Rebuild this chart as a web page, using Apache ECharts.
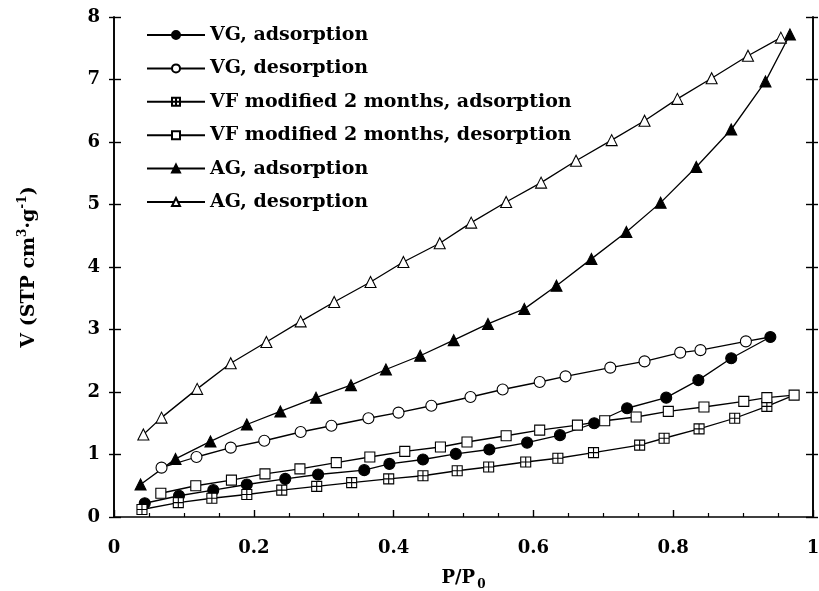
<!DOCTYPE html>
<html>
<head>
<meta charset="utf-8">
<script src="https://cdn.jsdelivr.net/npm/echarts@6/dist/echarts.min.js"></script>
<style>html,body{margin:0;padding:0;background:#fff}#c{width:819px;height:591px}</style>
</head>
<body>
<div id="c"></div>
<script>
// ---- data (P/P0, V) ----
const vgAdsX = [0.044,0.093,0.142,0.190,0.245,0.292,0.358,0.394,0.442,0.489,0.537,0.591,0.638,0.687,0.734,0.790,0.836,0.883,0.939];
const vgAdsY = [0.22,0.34,0.43,0.52,0.61,0.68,0.75,0.85,0.92,1.01,1.08,1.19,1.31,1.50,1.74,1.91,2.19,2.54,2.88];

const vgDesX = [0.939,0.904,0.839,0.810,0.759,0.710,0.646,0.609,0.556,0.510,0.454,0.407,0.364,0.311,0.267,0.215,0.167,0.118,0.068];
const vgDesY = [2.88,2.81,2.67,2.63,2.49,2.39,2.25,2.16,2.04,1.92,1.78,1.67,1.58,1.46,1.36,1.22,1.11,0.96,0.79];

const vfAdsX = [0.040,0.092,0.140,0.190,0.240,0.290,0.340,0.393,0.442,0.491,0.536,0.589,0.635,0.686,0.752,0.787,0.837,0.888,0.934,0.973];
const vfAdsY = [0.12,0.23,0.30,0.36,0.43,0.49,0.55,0.61,0.66,0.74,0.80,0.88,0.94,1.03,1.15,1.26,1.41,1.58,1.77,1.95];

const vfDesX = [0.973,0.934,0.901,0.844,0.793,0.747,0.702,0.663,0.609,0.561,0.505,0.467,0.416,0.366,0.318,0.266,0.216,0.168,0.117,0.067];
const vfDesY = [1.95,1.91,1.85,1.76,1.69,1.60,1.54,1.47,1.39,1.30,1.20,1.12,1.05,0.96,0.87,0.77,0.69,0.59,0.50,0.38];

const agAdsX = [0.038,0.088,0.138,0.190,0.238,0.289,0.339,0.389,0.438,0.486,0.535,0.587,0.633,0.683,0.733,0.782,0.833,0.883,0.932,0.967];
const agAdsY = [0.52,0.93,1.21,1.48,1.69,1.91,2.11,2.36,2.58,2.83,3.09,3.33,3.70,4.13,4.56,5.03,5.60,6.20,6.97,7.72];

const agDesX = [0.954,0.907,0.855,0.806,0.759,0.712,0.661,0.611,0.561,0.511,0.466,0.414,0.367,0.315,0.267,0.218,0.167,0.119,0.068,0.042];
const agDesY = [7.67,7.38,7.02,6.69,6.34,6.03,5.70,5.35,5.04,4.71,4.38,4.08,3.76,3.44,3.13,2.80,2.46,2.05,1.59,1.32];

const seriesNames = ['VG, adsorption','VG, desorption','VF modified 2 months, adsorption','VF modified 2 months, desorption','AG, adsorption','AG, desorption'];
const xTicks = [0,0.2,0.4,0.6,0.8,1];
const yTicks = [0,1,2,3,4,5,6,7,8];

// ---- build ----
const FONT = 'DejaVu Serif';
const crossSquare = 'path://M0,0H10V10H0Z M5,0V10 M0,5H10';

// points shared with the other branch of a loop are drawn without their own marker
function pairs(xs, ys, hideIdx) {
  return xs.map((x, i) => i === hideIdx ? { value: [x, ys[i]], symbol: 'none' } : [x, ys[i]]);
}

function mkSeries(name, data, symbol, filled, size) {
  return {
    name, type: 'line', data, symbol, symbolSize: size,
    showAllSymbol: true,
    lineStyle: { color: '#000', width: 1.3 },
    itemStyle: { color: filled ? '#000' : '#fff', borderColor: '#000', borderWidth: 1.1 },
    emphasis: { disabled: true },
    animation: false, z: 2
  };
}

const series = [
  mkSeries(seriesNames[0], pairs(vgAdsX, vgAdsY), 'circle', true, 11),
  mkSeries(seriesNames[1], pairs(vgDesX, vgDesY, 0), 'circle', false, 11),
  mkSeries(seriesNames[2], pairs(vfAdsX, vfAdsY, vfAdsX.length - 1), crossSquare, false, 10),
  mkSeries(seriesNames[3], pairs(vfDesX, vfDesY), 'rect', false, 10),
  mkSeries(seriesNames[4], pairs(agAdsX, agAdsY), 'triangle', true, 11),
  mkSeries(seriesNames[5], pairs(agDesX, agDesY), 'triangle', false, 11)
];

const axisLine = { show: true, lineStyle: { color: '#000', width: 1.6 } };
const labelStyle = { color: '#000', fontFamily: FONT, fontWeight: 'bold', fontSize: 18 };

function yAx(pos, inside, labels, len, extra) {
  return Object.assign({
    type: 'value', position: pos, min: yTicks[0], max: yTicks[yTicks.length-1], interval: 1,
    axisLine, splitLine: { show: false },
    axisTick: { show: true, inside, length: len, lineStyle: { color: '#000', width: 1.4 } },
    axisLabel: labels ? Object.assign({ show: true, margin: 14 }, labelStyle) : { show: false }
  }, extra || {});
}

const option = {
  backgroundColor: '#fff',
  animation: false,
  grid: { left: 114, right: 6, top: 17, bottom: 74, containLabel: false, outerBoundsMode: 'none' },
  legend: {
    data: seriesNames,
    orient: 'vertical', left: 141, top: 20,
    itemWidth: 58, itemHeight: 10, itemGap: 13.4,
    textStyle: { color: '#000', fontFamily: FONT, fontWeight: 'bold', fontSize: 19, lineHeight: 20 },
    selectedMode: false
  },
  xAxis: [{
    type: 'value', min: xTicks[0], max: xTicks[xTicks.length-1], interval: 0.2,
    axisLine, splitLine: { show: false },
    axisTick: { show: true, inside: true, length: 7, lineStyle: { color: '#000', width: 1.4 } },
    minorTick: { show: true, splitNumber: 4, length: 4, lineStyle: { color: '#000', width: 1.2 } },
    axisLabel: Object.assign({ margin: 22 }, labelStyle),
    name: 'P/P{sub|0}', nameLocation: 'middle', nameGap: 48,
    nameTextStyle: Object.assign({}, labelStyle, { rich: { sub: { fontFamily: FONT, fontWeight: 'bold', fontSize: 12, color: '#000', verticalAlign: 'bottom', padding: [14,0,0,2] } } })
  }],
  yAxis: [
    yAx('left', false, true, 5, {
      name: 'V (STP cm{sup|3}·g{sup|-1})', nameLocation: 'middle', nameRotate: 90, nameGap: 73,
      nameTextStyle: Object.assign({}, labelStyle, { fontSize: 19, rich: { sup: { fontFamily: FONT, fontWeight: 'bold', fontSize: 12, color: '#000', verticalAlign: 'top', padding: [0,0,12,0] } } })
    }),
    yAx('left', true, false, 7),
    yAx('right', false, false, 5),
    yAx('right', true, false, 7)
  ],
  series
};

const chart = echarts.init(document.getElementById('c'), null, { renderer: 'canvas' });
chart.setOption(option);
</script>
</body>
</html>
